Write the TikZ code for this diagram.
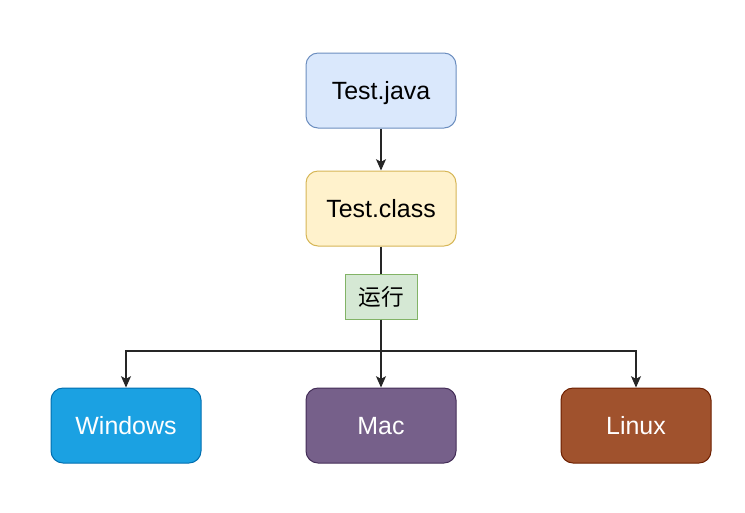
\documentclass[tikz,border=0pt]{standalone}
\usepackage{fontspec}
\setmainfont{Liberation Sans}
\newfontfamily\cjk{Noto Sans CJK SC}
\usetikzlibrary{arrows.meta}
\definecolor{javaF}{HTML}{DAE8FC}\definecolor{javaD}{HTML}{6C8EBF}
\definecolor{clsF}{HTML}{FFF2CC}\definecolor{clsD}{HTML}{D6B656}
\definecolor{runF}{HTML}{D5E8D4}\definecolor{runD}{HTML}{82B366}
\definecolor{winF}{HTML}{1BA1E2}\definecolor{winD}{HTML}{006EAF}
\definecolor{macF}{HTML}{76608A}\definecolor{macD}{HTML}{432D57}
\definecolor{linF}{HTML}{A0522D}\definecolor{linD}{HTML}{6D1F00}
\tikzset{
  box/.style={rounded corners=9pt, minimum width=112.5pt, minimum height=56.25pt, inner sep=0pt, line width=0.75pt, text height=13.4pt, text depth=0pt, font=\fontsize{18.7}{22}\selectfont},
  lbl/.style={minimum width=54pt, minimum height=33.75pt, inner sep=0pt, line width=0.75pt, font=\cjk\fontsize{17}{20}\selectfont},
  conn/.style={line width=0.9pt, draw=black!85},
  arr/.style={conn, -{Stealth[length=8.5pt,width=7.5pt,inset=2pt]}}
}
\begin{document}
\begin{tikzpicture}[x=0.75pt,y=-0.75pt]
\useasboundingbox (0,0) rectangle (745,512);
\node[box, fill=javaF, draw=javaD] (java) at (381,90.5) {Test.java};
\node[box, fill=clsF, draw=clsD] (cls) at (381,208.5) {Test.class};
\node[lbl, fill=runF, draw=runD] (run) at (381,296.5) {运行};
\node[box, fill=winF, draw=winD, text=white] (win) at (126,425.5) {Windows};
\node[box, fill=macF, draw=macD, text=white] (mac) at (381,425.5) {Mac};
\node[box, fill=linF, draw=linD, text=white] (lin) at (636,425.5) {Linux};
\coordinate (j) at (381,351);
\draw[arr] (java) -- (cls);
\draw[conn] (cls) -- (run);
\draw[conn] (run) -- (j);
\draw[arr] (j) -- (mac);
\draw[arr] (j) -| (win);
\draw[arr] (j) -| (lin);
\end{tikzpicture}
\end{document}
